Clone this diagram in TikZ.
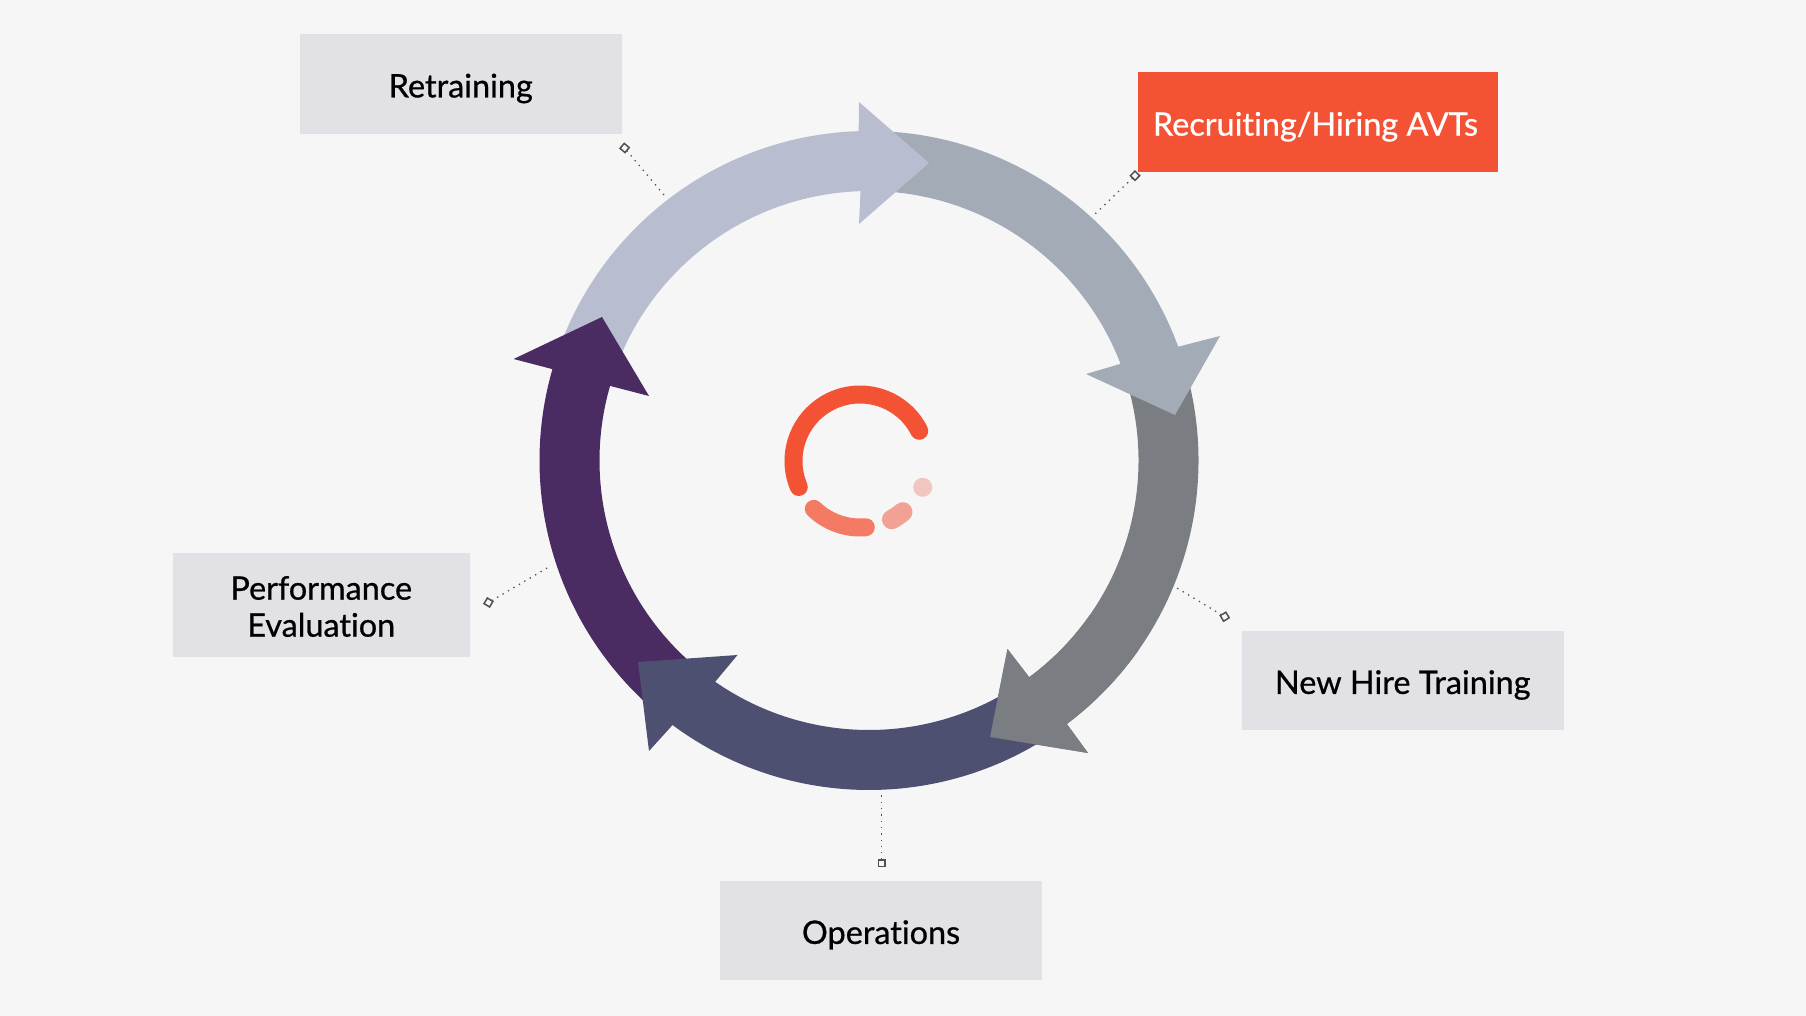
\documentclass[tikz,border=0pt]{standalone}
\usepackage{fontspec}
\setmainfont{Lato}[FakeBold=0.7,Ligatures=NoCommon]
\usetikzlibrary{calc}
\definecolor{pagebg}{HTML}{F6F6F6}
\definecolor{boxgrey}{HTML}{E2E2E6}
\definecolor{accent}{HTML}{F35235}
\definecolor{accentb}{HTML}{F47A63}
\definecolor{accentc}{HTML}{F2A194}
\definecolor{accentd}{HTML}{F2C6C0}
\definecolor{arrowa}{HTML}{B9BDD0}
\definecolor{arrowb}{HTML}{A3ABB6}
\definecolor{arrowc}{HTML}{7A7D82}
\definecolor{arrowd}{HTML}{4D5070}
\definecolor{arrowe}{HTML}{4B2C62}
\definecolor{markline}{HTML}{505050}
\tikzset{
  stage/.style={fill=boxgrey, text=black, minimum width=#1, align=center, font=\fontsize{32.4}{37}\selectfont, inner sep=0pt},
  stage/.default=321pt,
  leader/.style={markline, line width=1.3pt, dash pattern=on 1.3pt off 5pt},
  tick/.style={draw=markline, fill=pagebg, line width=1.5pt, minimum size=6.5pt, inner sep=0pt, outer sep=0pt},
  pill/.style={line width=18pt, line cap=round}
}
% Label text sits slightly below the middle of its box
\newcommand{\lbl}[1]{\raisebox{-6pt}[\height][\depth]{\begin{tabular}{@{}c@{}}#1\end{tabular}}}
% One ring segment: colour, start angle, outer end angle, inner end angle, head outline
\newcommand{\ringarrow}[5]{%
  \fill[#1] (869,460.5) ++(#2:329.5) arc[start angle=#2, end angle=#3, radius=329.5]
    -- #5 -- ($(869,460.5)+(#4:269.5)$) arc[start angle=#4, end angle=#2, radius=269.5] -- cycle;
}
\begin{document}
\begin{tikzpicture}[x=1pt,y=-1pt]
\useasboundingbox (0,0) rectangle (1806,1016);
\fill[pagebg] (0,0) rectangle (1806,1016);

% Ring of five arrows; each head overlaps the tail of the next one
\ringarrow{arrowc}{345}{413.1}{413.6}{(1088,753) -- (990,737) -- (1007.5,649) -- (1029,677)}
\ringarrow{arrowb}{270}{339.8}{338.8}{(1220,336) -- (1175,415) -- (1086,374) -- (1120,364)}
\ringarrow{arrowa}{198}{268.2}{268.2}{(859,102) -- (929,163) -- (859,224)}
\ringarrow{arrowe}{130}{196.1}{196.2}{(513.6,359) -- (602,317) -- (649,396) -- (610.5,386)}
\ringarrow{arrowd}{55}{126.6}{125}{(649,751) -- (638,662) -- (737.5,655) -- (715,682)}
\ringarrow{arrowc}{395}{413.1}{413.6}{(1088,753) -- (990,737) -- (1007.5,649) -- (1029,677)}

% Stage labels
\node[stage=321.5pt, minimum height=100pt] (retrain) at (460.75,84) {\lbl{Retraining}};
\node[stage=360.5pt, minimum height=100.5pt, fill=accent, text=white] (recruit) at (1317.75,122.25) {\lbl{Recruiting/Hiring AVTs}\hspace{4.6pt}};
\node[stage=321.5pt, minimum height=99pt] (newhire) at (1402.75,680.5) {\lbl{New Hire Training}};
\node[stage=322pt, minimum height=99pt] (ops) at (881,930.5) {\lbl{Operations}};
\node[stage=296.5pt, minimum height=103.5pt] (perf) at (321.25,604.75) {\lbl{Performance\\Evaluation}};

% Small markers and their dotted leaders toward the ring
\coordinate (retrainEnd) at (664,195);
\coordinate (recruitEnd) at (1094,215);
\coordinate (newhireEnd) at (1177,588);
\coordinate (opsEnd) at (881.5,792.7);
\coordinate (perfEnd) at (551,565.7);
\node[tick, rotate=50] (retrainTick) at (624.6,148) {};
\node[tick, rotate=-44] (recruitTick) at (1135,175.7) {};
\node[tick, rotate=31] (newhireTick) at (1224.7,616.7) {};
\node[tick] (opsTick) at (881.5,863) {};
\node[tick, rotate=-31] (perfTick) at (488.5,602.5) {};
\draw[leader] (retrainTick) -- (retrainEnd);
\draw[leader] (recruitTick) -- (recruitEnd);
\draw[leader] (newhireTick) -- (newhireEnd);
\draw[leader] (opsTick) -- (opsEnd);
\draw[leader] (perfTick) -- (perfEnd);

% Central spinner emblem
\draw[pill, accent] (860,461) ++(157:66.5) arc[start angle=157, end angle=333, radius=66.5];
\draw[pill, accentb] (860,461) ++(134:66.5) arc[start angle=134, end angle=85, radius=66.5];
\draw[pill, accentc, line width=19.5pt] (860,461) ++(61.5:66.5) arc[start angle=61.5, end angle=50, radius=66.5];
\fill[accentd] (922.7,487.3) circle[radius=9.5];
\end{tikzpicture}
\end{document}
